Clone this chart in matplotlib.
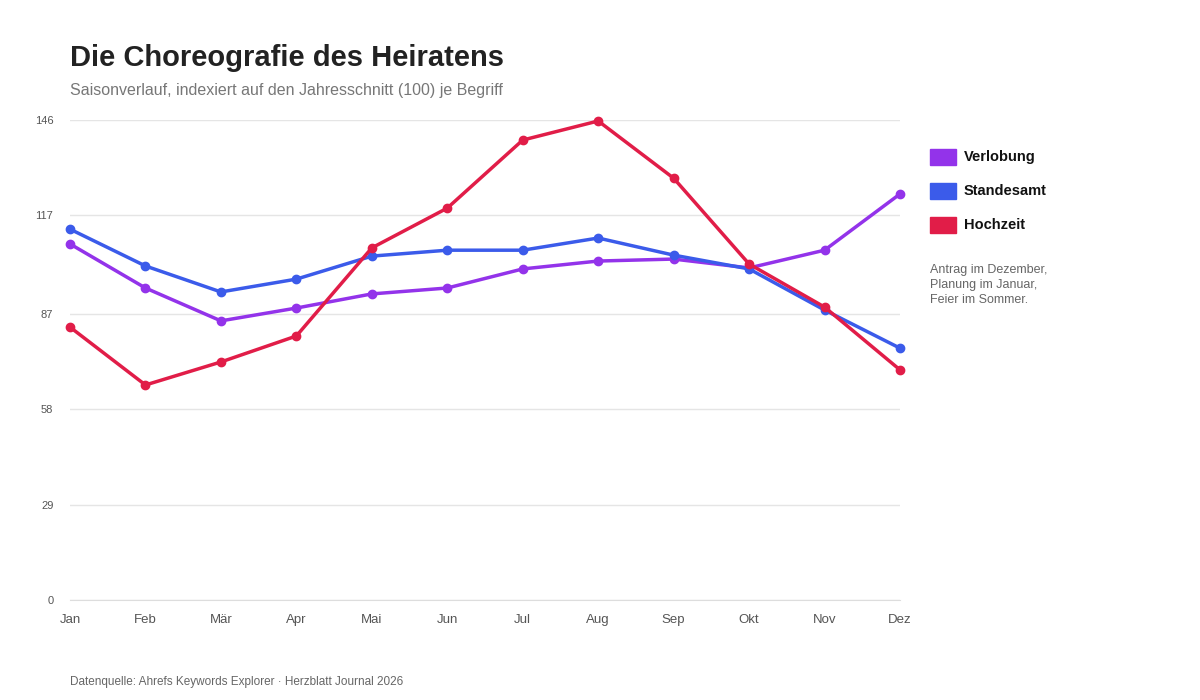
import matplotlib
matplotlib.use('agg')
import matplotlib.pyplot as plt
from matplotlib.patches import Rectangle

months = ["Jan", "Feb", "Mär", "Apr", "Mai", "Jun", "Jul", "Aug", "Sep", "Okt", "Nov", "Dez"]
verlobung = [108.3, 94.9, 84.9, 88.8, 93.1, 94.9, 100.7, 103.1, 103.7, 101.0, 106.4, 123.5]
standesamt = [112.8, 101.6, 93.7, 97.6, 104.6, 106.4, 106.4, 110.1, 104.9, 100.7, 88.2, 76.6]
hochzeit = [83.0, 65.4, 72.4, 80.3, 107.1, 119.2, 139.9, 145.7, 128.3, 102.2, 89.1, 70.0]
yticks = [0, 29, 58, 87, 117, 146]

series = [("Verlobung", verlobung, "#9333ea"),
          ("Standesamt", standesamt, "#3b5bea"),
          ("Hochzeit", hochzeit, "#e11d48")]

plt.rcParams['font.family'] = ['Liberation Sans', 'DejaVu Sans']
fig = plt.figure(figsize=(12, 7), dpi=100)
ax = fig.add_axes([70 / 1200, 1 - 600 / 700, 830 / 1200, 480 / 700])

x = list(range(len(months)))
for name, vals, col in series:
    ax.plot(x, vals, color=col, lw=2.5, marker='o', ms=6, clip_on=False, zorder=3)

ax.set_xlim(0, 11)
ax.set_ylim(0, 146)
ax.set_yticks(yticks)
ax.set_xticks(x)
ax.set_xticklabels(months)
ax.grid(axis='y', color='#e5e5e5', lw=1)
ax.tick_params(length=0, colors='#555555')
ax.tick_params(axis='x', pad=10, labelsize=9.5)
ax.tick_params(axis='y', pad=12, labelsize=8)
for s in ax.spines.values():
    s.set_visible(False)
ax.spines['bottom'].set_visible(True)
ax.spines['bottom'].set_color('#dddddd')

fig.text(70 / 1200, 1 - 58 / 700, "Die Choreografie des Heiratens", fontsize=21,
         fontweight='bold', color='#222222', va='center')
fig.text(70 / 1200, 1 - 91 / 700, "Saisonverlauf, indexiert auf den Jahresschnitt (100) je Begriff",
         fontsize=11.5, color='#777777', va='center')
fig.text(70 / 1200, 1 - 682 / 700, "Datenquelle: Ahrefs Keywords Explorer · Herzblatt Journal 2026",
         fontsize=8.5, color='#666666', va='center')

for i, (name, vals, col) in enumerate(series):
    yc = 157 + i * 34
    fig.patches.append(Rectangle((930 / 1200, 1 - (yc + 8) / 700), 26 / 1200, 16 / 700,
                                 transform=fig.transFigure, color=col))
    fig.text(964 / 1200, 1 - yc / 700, name, fontsize=10.5, fontweight='bold',
             color='#111111', va='center')

fig.text(930 / 1200, 1 - 285 / 700, "Antrag im Dezember,\nPlanung im Januar,\nFeier im Sommer.",
         fontsize=9, color='#666666', va='center', linespacing=1.3)

fig.savefig("out.png", dpi=100)
